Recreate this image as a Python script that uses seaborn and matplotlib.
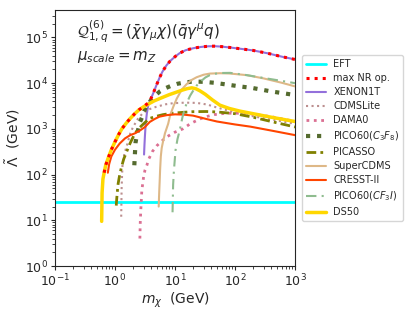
import matplotlib
matplotlib.use("Agg")
import matplotlib.pyplot as plt
import seaborn as sns

sns.set_style("ticks")
plt.rcParams["font.family"] = ["DejaVu Sans"]

# --- data (m_chi in GeV, Lambda in GeV) ---
eft_m = [0.1, 1000]
eft_L = [25, 25]

nr_m = [0.66, 0.7, 0.77, 0.87, 1.0, 1.15, 1.3, 1.55, 1.8, 2.1, 2.5, 3.0, 3.3, 3.6,
        4.0, 4.4, 4.9, 5.5, 6.2, 7.2, 8.3, 10, 12, 15, 20, 27, 35, 45, 60, 85,
        130, 200, 350, 600, 1000]
nr_L = [110, 160, 230, 350, 520, 750, 1000, 1350, 1700, 2100, 2600, 3050, 3400, 3700,
        4700, 6300, 9000, 13000, 18000, 24500, 30500, 38000, 45500, 52500, 58000,
        62000, 64000, 64500, 63000, 60000, 56000, 52000, 45000, 38000, 33000]

xe_m = [3.05, 3.1, 3.16, 3.25, 3.4, 3.6, 4.0, 4.4, 4.9, 5.5, 6.2, 7.2, 8.3, 10, 12,
        15, 20, 27, 35, 45, 60, 85, 130, 200, 350, 600, 1000]
xe_L = [275, 450, 730, 1300, 2200, 3400, 4700, 6300, 9000, 13000, 18000, 24500,
        30500, 38000, 45500, 52500, 58000, 62000, 64000, 64500, 63000, 60000,
        56000, 52000, 45000, 38000, 33000]

cdms_m = [1.27, 1.28, 1.29, 1.31, 1.34, 1.45, 1.57, 1.8, 2.0, 2.4, 2.9, 3.6, 4.9,
          7, 9.3, 15, 23, 35, 43, 70, 156, 400, 1000]
cdms_L = [12, 25, 50, 90, 180, 300, 420, 800, 1100, 1650, 2200, 2650, 3050, 3450,
          3650, 3750, 3700, 3400, 3100, 2600, 2000, 1600, 1300]

dama_m = [2.6, 2.63, 2.68, 2.8, 3.0, 3.16, 3.4, 3.6, 4.2, 5.0, 6.0, 7.3, 10, 13.5,
          18, 26, 33, 45, 70, 150, 400, 1000]
dama_L = [4, 8, 15, 45, 90, 125, 160, 210, 320, 430, 540, 670, 850, 1000, 1300,
          1650, 1850, 2050, 2200, 2200, 1850, 1450]

pico_m = [2.1, 2.15, 2.2, 2.3, 2.4, 2.6, 2.8, 3.16, 3.5, 4.1, 5, 5.6, 7, 8.5, 11,
          13.5, 18, 23, 30, 45, 70, 120, 200, 400, 1000]
pico_L = [160, 290, 500, 700, 900, 1400, 1750, 2700, 3500, 4400, 5800, 6600, 7800,
          8700, 9700, 10200, 10700, 10800, 10700, 10200, 9400, 8500, 7800, 6600, 5500]

picasso_m = [1.05, 1.07, 1.1, 1.13, 1.2, 1.29, 1.4, 1.57, 1.78, 2.15, 2.6, 3.2, 3.8,
             5, 6.3, 9, 13.5, 20, 33, 50, 100, 200, 400, 1000]
picasso_L = [21, 30, 45, 64, 100, 150, 220, 320, 480, 800, 1080, 1400, 1700, 1900,
             2050, 2200, 2300, 2380, 2400, 2350, 2150, 1800, 1450, 1100]

super_m = [5.35, 5.45, 5.55, 5.65, 5.8, 6.0, 6.3, 6.8, 7.7, 8.3, 9.5, 10.7, 13,
           15.6, 19, 23, 30, 38, 56, 80, 156, 300, 600, 1000]
super_L = [20, 40, 70, 130, 250, 380, 520, 800, 1300, 2000, 3200, 4600, 7300, 9500,
           11800, 13500, 15300, 16200, 16500, 16300, 15000, 12700, 10200, 8500]

cresst_m = [0.76, 0.8, 0.87, 1.0, 1.2, 1.47, 1.8, 2.15, 2.6, 3.16, 3.8, 4.6, 5.5,
            7.3, 10, 14, 20, 33, 50, 100, 180, 400, 1000]
cresst_L = [110, 170, 250, 350, 480, 620, 730, 800, 920, 1100, 1420, 1650, 1850,
            2000, 2080, 2050, 1950, 1650, 1450, 1250, 1120, 920, 730]

cf3i_m = [9.1, 9.2, 9.3, 9.6, 10.2, 11, 12, 13.3, 14.7, 16, 17.8, 20, 23, 27, 32,
          38, 45, 60, 83, 156, 300, 600, 1000]
cf3i_L = [15, 30, 60, 125, 340, 600, 940, 1800, 2900, 3900, 5300, 6800, 8900,
          11000, 13300, 15000, 16000, 16700, 16800, 15000, 13000, 11200, 10000]

ds50_m = [0.6, 0.605, 0.61, 0.63, 0.66, 0.7, 0.77, 0.87, 1.0, 1.15, 1.3, 1.55, 1.8,
          2.1, 2.5, 3.0, 3.6, 4.5, 6.0, 8.0, 10, 13, 16, 19, 22, 26, 32, 42, 56,
          80, 120, 200, 400, 1000]
ds50_L = [9.5, 20, 40, 80, 110, 160, 230, 350, 520, 750, 1000, 1350, 1700, 2100,
          2600, 3050, 3500, 4100, 4800, 5600, 6200, 7000, 7600, 7900, 7600, 6800,
          5700, 4300, 3300, 2800, 2450, 2150, 1800, 1450]

fig, ax = plt.subplots(figsize=(4.07, 3.13), dpi=100)
fig.subplots_adjust(left=0.135, right=0.725, bottom=0.15, top=0.968)


def draw(m, L, ls="-", **kw):
    line_count = len(ax.lines)
    sns.lineplot(x=m, y=L, ax=ax, sort=False, estimator=None, **kw)
    # make sure the dash pattern survives seaborn's own styling
    for ln in ax.lines[line_count:]:
        ln.set_linestyle(ls)


draw(eft_m, eft_L, color="cyan", lw=2, label="EFT", zorder=2)
draw(nr_m, nr_L, ls=":", color="red", lw=2.2, label="max NR op.", zorder=10)
draw(xe_m, xe_L, color="mediumpurple", lw=1.5, label="XENON1T", zorder=3)
draw(cdms_m, cdms_L, ls=":", color="rosybrown", lw=1.5, label="CDMSLite", zorder=3)
draw(dama_m, dama_L, ls=":", color="palevioletred", lw=2, label="DAMA0", zorder=3)
draw(pico_m, pico_L, ls=":", color="darkolivegreen", lw=3,
     label="PICO60($C_3F_8$)", zorder=3)
draw(picasso_m, picasso_L, ls=(0, (3.5, 1.5, 1, 1.5)), color="olive", lw=2,
     label="PICASSO", zorder=3)
draw(super_m, super_L, color="burlywood", lw=1.5, label="SuperCDMS", zorder=3)
draw(cresst_m, cresst_L, color="orangered", lw=1.5, label="CRESST-II", zorder=3)
draw(cf3i_m, cf3i_L, ls=(0, (5, 2.5, 1, 2.5)), color="darkseagreen", lw=1.5,
     label="PICO60($CF_3I$)", zorder=3)
draw(ds50_m, ds50_L, color="gold", lw=2.5, label="DS50", zorder=4)

ax.set_xscale("log")
ax.set_yscale("log")
ax.set_xlim(0.1, 1000)
ax.set_ylim(1, 10 ** 5.6)
ax.tick_params(which="major", labelsize=9, length=3, pad=2)
ax.tick_params(which="minor", length=2)
ax.set_xlabel(r"$m_\chi$  (GeV)", fontsize=10, labelpad=1)
ax.set_ylabel(r"$\tilde{\Lambda}$  (GeV)", fontsize=10, labelpad=2)

ax.text(0.09, 0.915, r"$\mathcal{Q}^{(6)}_{1,q} = (\bar{\chi}\gamma_\mu\chi)(\bar{q}\gamma^\mu q)$",
        transform=ax.transAxes, fontsize=10.8, va="center")
ax.text(0.09, 0.816, r"$\mu_{scale} = m_Z$", transform=ax.transAxes, fontsize=10.8,
        va="center")

ax.legend(loc="center left", bbox_to_anchor=(1.01, 0.5), fontsize=7, frameon=True,
          labelspacing=0.42)

plt.savefig("out.png", dpi=100)
